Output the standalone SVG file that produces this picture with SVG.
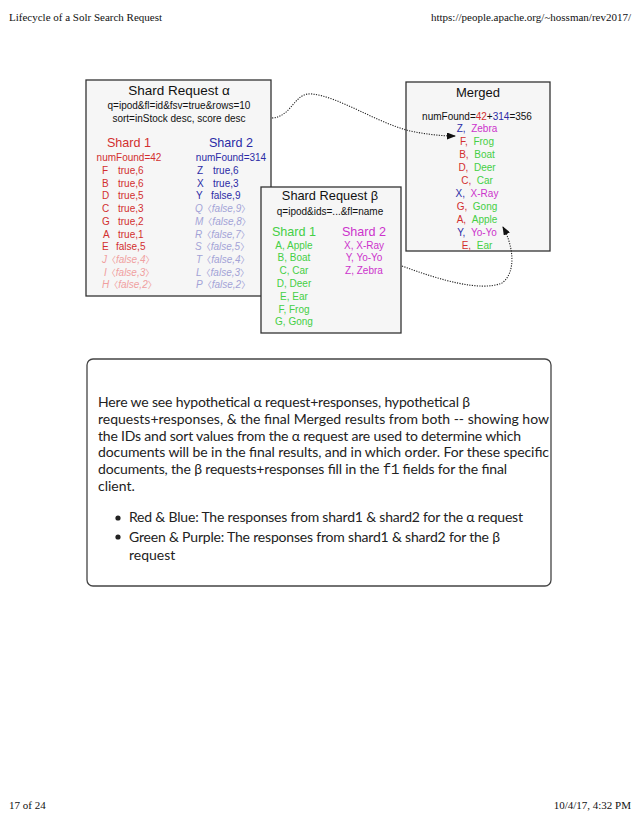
<svg xmlns="http://www.w3.org/2000/svg" width="638" height="826" viewBox="0 0 638 826">
<style>
.hdr{font-family:"Liberation Serif","Times New Roman",serif;font-size:11px;fill:#111}
.box{fill:#f6f6f6;stroke:#333;stroke-width:1.3}
.t{font-family:"Liberation Sans",Arial,"Noto Sans CJK JP",sans-serif;fill:#111}
.ttl{font-size:13.5px;text-anchor:middle}
.sub{font-size:10px;text-anchor:middle}
.sh{font-size:12.6px;text-anchor:middle}
.r{font-size:10px}
.c{text-anchor:middle}
.red{fill:#d22f2f}
.blue{fill:#2b2ba6}
.lred{fill:#f0a0a0;font-style:italic}
.lblue{fill:#a3a3d6;font-style:italic}
.grn{fill:#45cf45}
.mag{fill:#cc33cc}
.blk{fill:#111}
.cjk{font-family:"Noto Sans CJK JP",sans-serif;font-style:normal;font-size:9px}
.conn{fill:none;stroke:#222;stroke-width:1.1;stroke-dasharray:1.2 1.3}
.note{fill:#fff;stroke:#444;stroke-width:1.3}
.p{font-family:Lato,"Open Sans",sans-serif;font-size:14px;fill:#222}
.mono{font-family:"Liberation Mono","DejaVu Sans Mono",monospace}
</style>
<defs>
<marker id="ah" markerWidth="9" markerHeight="7" refX="8" refY="3.5" orient="auto" markerUnits="userSpaceOnUse">
<path d="M0,0 L9,3.5 L0,7 Z" fill="#111"/>
</marker>
</defs>

<g id="header">
<text class="hdr" x="9" y="21">Lifecycle of a Solr Search Request</text>
<text class="hdr" x="631" y="21" text-anchor="end">https://people.apache.org/~hossman/rev2017/</text>
</g>

<g id="shard-request-alpha">
<rect class="box" x="86" y="80" width="185" height="216"/>
<text class="t ttl" x="179" y="95">Shard Request α</text>
<text class="t sub" x="179" y="109">q=ipod&amp;fl=id&amp;fsv=true&amp;rows=10</text>
<text class="t sub" x="179" y="122">sort=inStock desc, score desc</text>
<text class="t sh red" x="129" y="147">Shard 1</text>
<text class="t sh blue" x="231" y="147">Shard 2</text>
<text class="t r c red" x="129" y="161">numFound=42</text>
<text class="t r c blue" x="231" y="161">numFound=314</text>
<g class="t r red">
<text x="102" y="174">F</text><text x="118" y="174">true,6</text>
<text x="102" y="186.7">B</text><text x="118" y="186.7">true,6</text>
<text x="102" y="199.4">D</text><text x="118" y="199.4">true,5</text>
<text x="102" y="212.1">C</text><text x="118" y="212.1">true,3</text>
<text x="102" y="224.8">G</text><text x="118" y="224.8">true,2</text>
<text x="103" y="237.5">A</text><text x="118" y="237.5">true,1</text>
<text x="102" y="250.2">E</text><text x="116" y="250.2">false,5</text>
</g>
<g class="t r lred">
<text x="102" y="262.9">J<tspan class="cjk">〈</tspan>false,4<tspan class="cjk">〉</tspan></text>
<text x="104" y="275.6">I<tspan class="cjk">〈</tspan>false,3<tspan class="cjk">〉</tspan></text>
<text x="102" y="288.3">H<tspan class="cjk">〈</tspan>false,2<tspan class="cjk">〉</tspan></text>
</g>
<g class="t r blue">
<text x="197" y="174">Z</text><text x="213" y="174">true,6</text>
<text x="197" y="186.7">X</text><text x="213" y="186.7">true,3</text>
<text x="196" y="199.4">Y</text><text x="211" y="199.4">false,9</text>
</g>
<g class="t r lblue">
<text x="195" y="212.1">Q<tspan class="cjk">〈</tspan>false,9<tspan class="cjk">〉</tspan></text>
<text x="195" y="224.8">M<tspan class="cjk">〈</tspan>false,8<tspan class="cjk">〉</tspan></text>
<text x="195" y="237.5">R<tspan class="cjk">〈</tspan>false,7<tspan class="cjk">〉</tspan></text>
<text x="195" y="250.2">S<tspan class="cjk">〈</tspan>false,5<tspan class="cjk">〉</tspan></text>
<text x="196" y="262.9">T<tspan class="cjk">〈</tspan>false,4<tspan class="cjk">〉</tspan></text>
<text x="196" y="275.6">L<tspan class="cjk">〈</tspan>false,3<tspan class="cjk">〉</tspan></text>
<text x="196" y="288.3">P<tspan class="cjk">〈</tspan>false,2<tspan class="cjk">〉</tspan></text>
</g>
</g>

<g id="shard-request-beta">
<rect class="box" x="261" y="187" width="140" height="146"/>
<text class="t ttl" x="330" y="200" style="font-size:12.8px">Shard Request β</text>
<text class="t sub" x="330" y="215">q=ipod&amp;ids=...&amp;fl=name</text>
<text class="t sh grn" x="294" y="235.5">Shard 1</text>
<text class="t sh mag" x="364" y="235.5">Shard 2</text>
<g class="t r c grn">
<text x="294" y="248.6">A, Apple</text>
<text x="294" y="261.4">B, Boat</text>
<text x="294" y="274.2">C, Car</text>
<text x="294" y="287">D, Deer</text>
<text x="294" y="299.8">E, Ear</text>
<text x="294" y="312.6">F, Frog</text>
<text x="294" y="325.4">G, Gong</text>
</g>
<g class="t r c mag">
<text x="364" y="248.6">X, X-Ray</text>
<text x="364" y="261.4">Y, Yo-Yo</text>
<text x="364" y="274.2">Z, Zebra</text>
</g>
</g>

<g id="merged">
<rect class="box" x="406" y="82" width="144" height="169"/>
<text class="t ttl" x="478" y="97" style="font-size:13px">Merged</text>
<text class="t r c blk" x="477" y="120">numFound=<tspan class="red">42</tspan>+<tspan class="blue">314</tspan>=356</text>
<g class="t r c">
<text x="477" y="131.6"><tspan class="blue">Z,</tspan>&#160;&#160;<tspan class="mag">Zebra</tspan></text>
<text x="477" y="144.6"><tspan class="red">F,</tspan>&#160;&#160;<tspan class="grn">Frog</tspan></text>
<text x="477" y="157.6"><tspan class="red">B,</tspan>&#160;&#160;<tspan class="grn">Boat</tspan></text>
<text x="477" y="170.6"><tspan class="red">D,</tspan>&#160;&#160;<tspan class="grn">Deer</tspan></text>
<text x="477" y="183.6"><tspan class="red">C,</tspan>&#160;&#160;<tspan class="grn">Car</tspan></text>
<text x="477" y="196.6"><tspan class="blue">X,</tspan>&#160;&#160;<tspan class="mag">X-Ray</tspan></text>
<text x="477" y="209.6"><tspan class="red">G,</tspan>&#160;&#160;<tspan class="grn">Gong</tspan></text>
<text x="477" y="222.6"><tspan class="red">A,</tspan>&#160;&#160;<tspan class="grn">Apple</tspan></text>
<text x="477" y="235.6"><tspan class="blue">Y,</tspan>&#160;&#160;<tspan class="mag">Yo-Yo</tspan></text>
<text x="477" y="248.6"><tspan class="red">E,</tspan>&#160;&#160;<tspan class="grn">Ear</tspan></text>
</g>
</g>

<g id="connectors">
<path class="conn" d="M272,118 C292,117 294,92 312,94 C340,97 375,122 410,131 C425,134 440,136 455,136" marker-end="url(#ah)"/>
<path class="conn" d="M402,266 C440,280 480,292 502,283 C517,272 513,245 503,227" marker-end="url(#ah)"/>
</g>

<g id="note">
<rect class="note" x="87" y="359" width="464" height="227" rx="6"/>
<text class="p" x="98" y="407" textLength="372" lengthAdjust="spacing">Here we see hypothetical α request+responses, hypothetical β</text>
<text class="p" x="98" y="424" textLength="451" lengthAdjust="spacing">requests+responses, &amp; the final Merged results from both -- showing how</text>
<text class="p" x="98" y="441" textLength="423" lengthAdjust="spacing">the IDs and sort values from the α request are used to determine which</text>
<text class="p" x="98" y="457" textLength="451" lengthAdjust="spacing">documents will be in the final results, and in which order. For these specific</text>
<text class="p" x="98" y="474" textLength="409" lengthAdjust="spacing">documents, the β requests+responses fill in the <tspan class="mono">f1</tspan> fields for the final</text>
<text class="p" x="98" y="491">client.</text>
<circle cx="118" cy="518" r="2.6" fill="#222"/>
<text class="p" x="129" y="522" textLength="394" lengthAdjust="spacing">Red &amp; Blue: The responses from shard1 &amp; shard2 for the α request</text>
<circle cx="118" cy="537" r="2.6" fill="#222"/>
<text class="p" x="129" y="542" textLength="371" lengthAdjust="spacing">Green &amp; Purple: The responses from shard1 &amp; shard2 for the β</text>
<text class="p" x="129" y="560">request</text>
</g>

<g id="footer">
<text class="hdr" x="9" y="809">17 of 24</text>
<text class="hdr" x="631" y="809" text-anchor="end">10/4/17, 4:32 PM</text>
</g>
</svg>
